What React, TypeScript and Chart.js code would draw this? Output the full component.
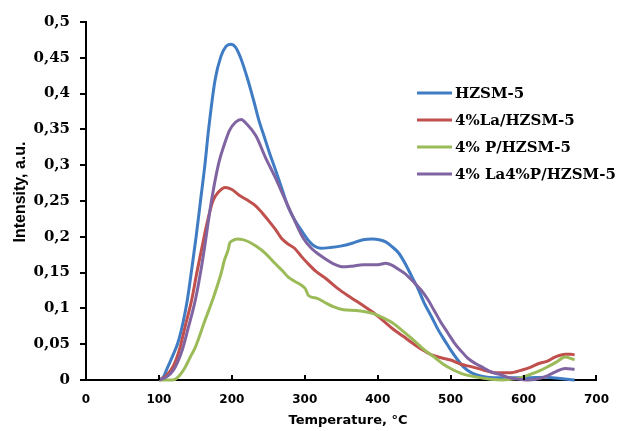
import React, { useEffect, useRef } from "react";
import { Chart, registerables } from "chart.js";

Chart.register(...registerables);

const seriesLabels = ["HZSM-5", "4%La/HZSM-5", "4% P/HZSM-5", "4% La4%P/HZSM-5"];
const seriesColors = ["#3f7cc4", "#c0504d", "#9bbb59", "#8064a2"];

const xTicks = [0, 100, 200, 300, 400, 500, 600, 700];

const hzsmT = [100, 106, 112, 119, 126, 133, 139, 145, 151, 157, 163, 168, 177, 185, 192, 198, 205, 212, 222, 230, 237, 245, 252, 260, 270, 277, 287, 296, 305, 313, 322, 335, 349, 365, 380, 393, 402, 411, 420, 429, 438, 447, 456, 464, 474, 483, 492, 500, 509, 518, 527, 536, 550, 570, 600, 630, 650, 670];
const hzsmI = [0, 0.004, 0.018, 0.034, 0.052, 0.08, 0.112, 0.155, 0.2, 0.25, 0.3, 0.349, 0.419, 0.452, 0.466, 0.469, 0.465, 0.45, 0.419, 0.39, 0.363, 0.338, 0.316, 0.293, 0.263, 0.242, 0.222, 0.208, 0.195, 0.187, 0.184, 0.185, 0.187, 0.191, 0.196, 0.197, 0.196, 0.193, 0.186, 0.177, 0.162, 0.144, 0.126, 0.107, 0.088, 0.07, 0.055, 0.042, 0.029, 0.018, 0.011, 0.007, 0.004, 0.003, 0.003, 0.004, 0.002, 0.0];

const laT = [100, 110, 120, 128, 136, 145, 152, 160, 166, 174, 182, 191, 200, 210, 220, 233, 242, 250, 260, 268, 277, 286, 295, 304, 315, 331, 345, 362, 380, 393, 405, 420, 435, 447, 460, 474, 487, 500, 514, 527, 545, 563, 581, 598, 610, 621, 632, 643, 657, 665, 670];
const laI = [0, 0.006, 0.02, 0.042, 0.075, 0.112, 0.15, 0.19, 0.219, 0.25, 0.263, 0.269, 0.266, 0.258, 0.252, 0.243, 0.233, 0.223, 0.21, 0.198, 0.19, 0.184, 0.173, 0.163, 0.152, 0.14, 0.128, 0.116, 0.104, 0.095, 0.085, 0.072, 0.061, 0.052, 0.043, 0.035, 0.031, 0.028, 0.022, 0.019, 0.014, 0.01, 0.01, 0.014, 0.018, 0.023, 0.026, 0.032, 0.036, 0.036, 0.035];

const pT = [100, 115, 122, 128, 135, 143, 150, 162, 175, 185, 190, 195, 197, 200, 208, 215, 225, 233, 246, 259, 270, 277, 286, 296, 301, 305, 317, 330, 340, 353, 370, 393, 405, 420, 435, 450, 464, 480, 490, 500, 515, 536, 555, 571, 590, 607, 620, 634, 645, 657, 665, 670];
const pI = [0, 0, 0.001, 0.006, 0.016, 0.032, 0.046, 0.08, 0.116, 0.148, 0.168, 0.182, 0.191, 0.194, 0.197, 0.196, 0.192, 0.187, 0.177, 0.163, 0.152, 0.144, 0.138, 0.132, 0.127, 0.118, 0.114, 0.107, 0.102, 0.098, 0.097, 0.093, 0.088, 0.08, 0.068, 0.055, 0.042, 0.03, 0.022, 0.016, 0.009, 0.004, 0.001, 0, 0.002, 0.007, 0.012, 0.019, 0.025, 0.032, 0.03, 0.028];

const laPT = [100, 110, 120, 132, 140, 150, 160, 172, 182, 190, 197, 205, 213, 220, 233, 246, 259, 270, 286, 298, 309, 320, 330, 340, 353, 365, 380, 393, 400, 411, 420, 428, 437, 451, 460, 469, 478, 487, 496, 505, 514, 523, 534, 545, 556, 567, 581, 595, 607, 625, 635, 643, 657, 670];
const laPI = [0, 0.004, 0.014, 0.042, 0.072, 0.112, 0.168, 0.25, 0.303, 0.33, 0.349, 0.36, 0.364, 0.358, 0.341, 0.311, 0.284, 0.259, 0.223, 0.198, 0.184, 0.175, 0.168, 0.162, 0.158, 0.159, 0.161, 0.161, 0.161, 0.163, 0.16, 0.155, 0.149, 0.135, 0.125, 0.112, 0.096, 0.08, 0.066, 0.052, 0.041, 0.031, 0.023, 0.017, 0.011, 0.008, 0.003, 0.001, 0, 0.003, 0.007, 0.011, 0.016, 0.015];

const seriesT = [hzsmT, laT, pT, laPT];
const seriesI = [hzsmI, laI, pI, laPI];

const extrasPlugin = {
  id: "extras",
  afterDraw(chart: any) {
    const ctx = chart.ctx;
    const xs = chart.scales.x;
    const area = chart.chartArea;
    ctx.save();
    // inward x ticks
    ctx.strokeStyle = "#000";
    ctx.lineWidth = 2;
    xTicks.forEach((v) => {
      const px = Math.round(xs.getPixelForValue(v));
      ctx.beginPath();
      ctx.moveTo(px, area.bottom);
      ctx.lineTo(px, area.bottom - 5);
      ctx.stroke();
    });
    // axis titles
    ctx.fillStyle = "#000";
    ctx.textAlign = "center";
    ctx.textBaseline = "middle";
    ctx.font = "bold 13px 'DejaVu Sans'";
    ctx.fillText("Temperature, °C", 348, 421);
    ctx.save();
    ctx.translate(21, 192);
    ctx.rotate(-Math.PI / 2);
    ctx.font = "bold 16px 'Liberation Sans Narrow', 'Liberation Sans'";
    ctx.fillText("Intensity, a.u.", 0, 0);
    ctx.restore();
    // legend
    ctx.textAlign = "left";
    ctx.font = "bold 15px 'DejaVu Serif'";
    seriesLabels.forEach((lab, i) => {
      const y = 93 + i * 27;
      ctx.strokeStyle = seriesColors[i];
      ctx.lineWidth = 3;
      ctx.beginPath();
      ctx.moveTo(417, y);
      ctx.lineTo(452, y);
      ctx.stroke();
      ctx.fillStyle = "#000";
      ctx.fillText(lab, 455, y + 1);
    });
    ctx.restore();
  },
};

export default function App() {
  const ref = useRef<HTMLCanvasElement>(null);
  useEffect(() => {
    if (!ref.current) return;
    const datasets = seriesLabels.map((lab, i) => ({
      label: lab,
      data: seriesT[i].map((t, j) => ({ x: t, y: seriesI[i][j] })),
      borderColor: seriesColors[i],
      backgroundColor: seriesColors[i],
      borderWidth: 3,
      pointRadius: 0,
      cubicInterpolationMode: "monotone" as const,
      clip: false as any,
      order: 4 - i,
    }));
    const chart = new Chart(ref.current, {
      type: "line",
      data: { datasets },
      plugins: [extrasPlugin],
      options: {
        animation: false,
        responsive: false,
        layout: { padding: { left: 0, top: 22, right: 13, bottom: 0 } },
        plugins: { legend: { display: false }, tooltip: { enabled: false } },
        scales: {
          x: {
            type: "linear",
            min: 0,
            max: 700,
            afterFit: (s: any) => {
              s.height = 51;
            },
            ticks: {
              stepSize: 100,
              color: "#000",
              padding: 13,
              maxRotation: 0,
              font: { family: "DejaVu Sans", weight: "bold", size: 12 },
            },
            grid: { display: false, drawTicks: false },
            border: { display: true, color: "#000", width: 2 },
          },
          y: {
            type: "linear",
            min: 0,
            max: 0.5,
            afterFit: (s: any) => {
              s.width = 86;
            },
            ticks: {
              stepSize: 0.05,
              color: "#000",
              padding: 10,
              font: { family: "DejaVu Serif", weight: "bold", size: 15 },
              callback: (v: any) => String(Number(Number(v).toFixed(2))).replace(".", ","),
            },
            grid: {
              display: true,
              drawOnChartArea: false,
              drawTicks: true,
              tickLength: 6,
              color: "#000",
              lineWidth: 2,
            },
            border: { display: true, color: "#000", width: 2 },
          },
        },
      },
    });
    return () => chart.destroy();
  }, []);
  return (
    <div style={{ position: "fixed", left: 0, top: 0, width: 622, height: 431, background: "#fff" }}>
      <canvas ref={ref} width={622} height={431} />
    </div>
  );
}
